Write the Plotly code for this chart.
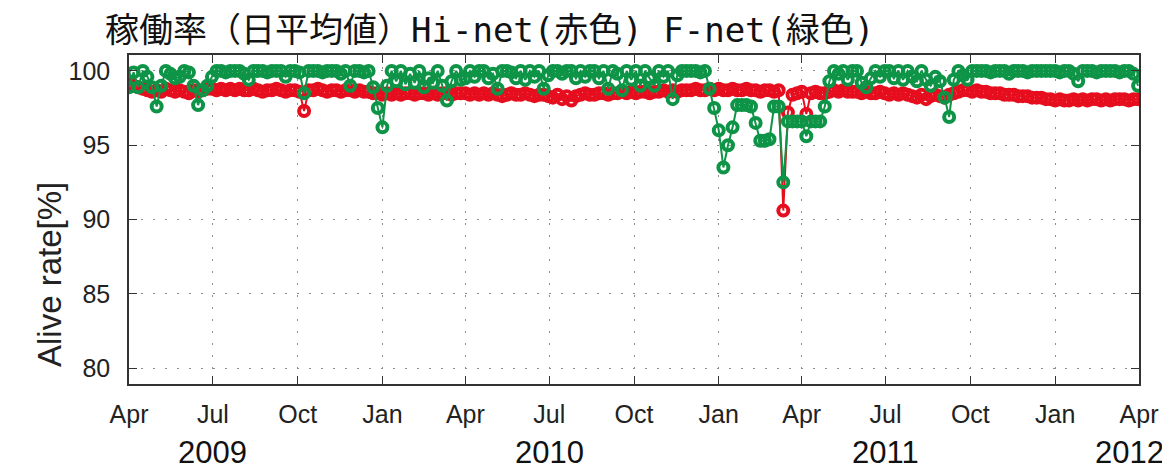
import pandas as pd
import plotly.graph_objects as go

# ---------------- data (5-day samples) ----------------
start_date = "2009-04-01"

hinet_2009 = [99.1, 99.0, 98.9, 98.8, 98.7, 98.6,
              98.7, 98.6, 98.8, 98.7, 98.6, 98.7,
              98.6, 98.5, 98.7, 98.6, 98.7, 98.8,
              98.8, 98.7, 98.8, 98.7, 98.8, 98.7,
              98.8, 98.7, 98.7, 98.8, 98.7, 98.6,
              98.7, 98.7, 98.8, 98.7, 98.6, 98.7,
              98.7, 98.6, 97.3, 98.7, 98.7, 98.8,
              98.7, 98.6, 98.7, 98.7, 98.6, 98.7,
              98.7, 98.6, 98.7, 98.6, 98.6, 98.5,
              98.5, 98.4, 98.5, 98.4, 98.5, 98.4,
              98.5, 98.5, 98.4, 98.5, 98.5, 98.4,
              98.5, 98.4, 98.5, 98.5, 98.4, 98.5,
              98.5]
hinet_2010 = [98.5, 98.4, 98.5, 98.4, 98.5, 98.4,
              98.5, 98.4, 98.3, 98.4, 98.5, 98.4,
              98.4, 98.5, 98.4, 98.3, 98.4, 98.4,
              98.3, 98.2, 98.4, 98.1, 98.3, 98.0,
              98.3, 98.4, 98.5, 98.4, 98.4, 98.5,
              98.5, 98.4, 98.5, 98.5, 98.6, 98.5,
              98.6, 98.5, 98.6, 98.6, 98.5, 98.6,
              98.6, 98.7, 98.6, 98.7, 98.6, 98.7,
              98.7, 98.7, 98.8, 98.7, 98.7, 98.8,
              98.7, 98.8, 98.7, 98.7, 98.8, 98.7,
              98.7, 98.8, 98.7, 98.7, 98.6, 98.7,
              98.7, 98.6, 98.7, 90.6, 97.2, 98.4, 98.5]
hinet_2011 = [98.6, 97.1, 98.5, 98.6, 98.5, 98.5,
              98.6, 98.7, 98.6, 98.7, 98.6, 98.6,
              98.6, 98.5, 98.6, 98.5, 98.5, 98.6,
              98.5, 98.4, 98.5, 98.4, 98.5, 98.4,
              98.3, 98.2, 98.4, 98.1, 98.3, 98.4,
              98.3, 98.2, 98.4, 98.5, 98.6, 98.7,
              98.7, 98.6, 98.7, 98.6, 98.6, 98.5,
              98.5, 98.5, 98.4, 98.4, 98.4, 98.3,
              98.3, 98.3, 98.2, 98.2, 98.2, 98.1,
              98.1, 98.0, 98.1, 98.0, 98.0, 98.1,
              98.0, 98.1, 98.0, 98.1, 98.1, 98.0,
              98.1, 98.0, 98.1, 98.1, 98.1, 98.0,
              98.1, 98.1]

fnet_2009 = [98.9, 99.9, 98.9, 100, 99.6, 98.9,
             97.6, 99.0, 100, 99.8, 99.5, 99.6,
             100, 99.9, 99.0, 97.7, 98.7, 99.0,
             99.6, 100, 100, 99.9, 100, 100,
             100, 99.8, 99.4, 100, 100, 100,
             99.9, 100, 100, 100, 99.6, 100,
             100, 99.9, 98.5, 100, 100, 100,
             99.9, 100, 100, 100, 99.8, 100,
             99.0, 100, 100, 99.9, 100, 98.9,
             97.5, 96.2, 99.0, 100, 99.3, 100,
             99.1, 99.8, 99.2, 100, 98.9, 99.5,
             99.2, 100, 99.0, 98.0, 99.3, 100,
             99.4]
fnet_2010 = [99.5, 100, 99.6, 100, 100, 99.5,
             99.8, 98.8, 100, 100, 99.9, 99.5,
             100, 99.4, 100, 99.6, 100, 98.8,
             99.7, 100, 100, 99.8, 100, 100,
             99.5, 100, 99.6, 100, 100, 99.5,
             100, 98.8, 100, 99.8, 98.7, 100,
             99.4, 100, 99.0, 100, 99.5, 99.0,
             100, 99.6, 100, 98.1, 99.7, 100,
             100, 100, 100, 99.9, 100, 98.8,
             97.5, 96.0, 93.5, 95.0, 96.2, 97.7,
             97.7, 97.7, 97.6, 96.5, 95.3, 95.3,
             95.4, 97.6, 97.6, 92.5, 96.6, 96.6, 96.6]
fnet_2011 = [96.6, 95.6, 96.6, 96.6, 96.6, 97.6,
             99.3, 100, 99.8, 100, 99.4, 100,
             100, 99.2, 98.9, 99.5, 100, 99.6,
             100, 100, 99.5, 100, 99.4, 100,
             99.6, 99.3, 100, 99.4, 99.0, 99.6,
             99.3, 98.2, 96.9, 99.4, 100, 99.7,
             99.4, 100, 100, 100, 100, 99.9,
             100, 100, 100, 99.8, 100, 100,
             100, 99.9, 100, 100, 100, 100,
             100, 100, 99.9, 100, 100, 99.8,
             99.3, 100, 100, 100, 99.9, 100,
             100, 100, 100, 99.9, 100, 100,
             99.8, 99.0]

tick_dates = ["2009-04-01", "2009-07-01", "2009-10-01", "2010-01-01",
              "2010-04-01", "2010-07-01", "2010-10-01", "2011-01-01",
              "2011-04-01", "2011-07-01", "2011-10-01", "2012-01-01",
              "2012-04-01"]
tick_labels = ["Apr", "Jul", "Oct", "Jan", "Apr", "Jul", "Oct", "Jan",
               "Apr", "Jul", "Oct", "Jan", "Apr"]
year_labels = ["2009", "2010", "2011", "2012"]
year_dates = ["2009-07-01", "2010-07-01", "2011-07-01", "2012-04-01"]
y_ticks = [80, 85, 90, 95, 100]
title_text = "稼働率（日平均値）Hi-net(赤色) F-net(緑色)"

# ---------------- figure ----------------
hinet = hinet_2009 + hinet_2010 + hinet_2011
fnet = fnet_2009 + fnet_2010 + fnet_2011
dates = pd.date_range(start_date, periods=len(hinet), freq="5D")

RED = "#E60E1E"
GREEN = "#0E9447"

fig = go.Figure()
for vals, col, name in [(hinet, RED, "Hi-net"), (fnet, GREEN, "F-net")]:
    fig.add_trace(go.Scatter(
        x=dates, y=vals, mode="lines+markers", name=name,
        line=dict(color=col, width=2),
        marker=dict(symbol="circle-open", size=10, color=col,
                    line=dict(color=col, width=4)),
        showlegend=False,
    ))

# the page body adds an 8px margin, so the figure is 8px smaller on each side
W, H = 1162, 462
fig.update_layout(
    width=W, height=H,
    margin=dict(l=121, r=27, t=47, b=86),
    paper_bgcolor="white", plot_bgcolor="white",
    font=dict(family="Liberation Sans, Arial, sans-serif", color="#222", size=25),
    title=dict(text=title_text, xref="container", yref="container",
               x=97 / W, xanchor="left", y=1 - 22 / H, yanchor="middle",
               font=dict(family="DejaVu Sans Mono, Noto Sans CJK JP",
                         size=34, color="#111")),
)

grid = dict(showgrid=True, gridcolor="#8c8c8c", gridwidth=1.3, griddash="2px,10px",
            showline=True, linecolor="#333", linewidth=1.5, mirror="ticks",
            ticks="inside", ticklen=8, tickwidth=1.3, tickcolor="#333", zeroline=False)

fig.update_xaxes(range=["2009-04-01", "2012-04-01"], tickvals=tick_dates,
                 ticktext=tick_labels, tickfont=dict(size=25),
                 ticklabelstandoff=7, **grid)
fig.update_yaxes(range=[78.93, 101.07], tickvals=y_ticks, tickfont=dict(size=25),
                 ticklabelstandoff=12, **grid)

fig.add_annotation(text="Alive rate[%]", xref="paper", yref="paper", x=0, y=0.5,
                   xshift=-100, yshift=-55, textangle=-90, showarrow=False,
                   font=dict(size=33, color="#222"))

for lab, d in zip(year_labels, year_dates):
    fig.add_annotation(text=lab, x=d, xref="x", yref="paper", y=0,
                       yanchor="middle", yshift=-68,
                       xshift=-10 if lab == "2012" else 0,
                       showarrow=False, font=dict(size=31, color="#111"))

fig.write_html("out.html")
